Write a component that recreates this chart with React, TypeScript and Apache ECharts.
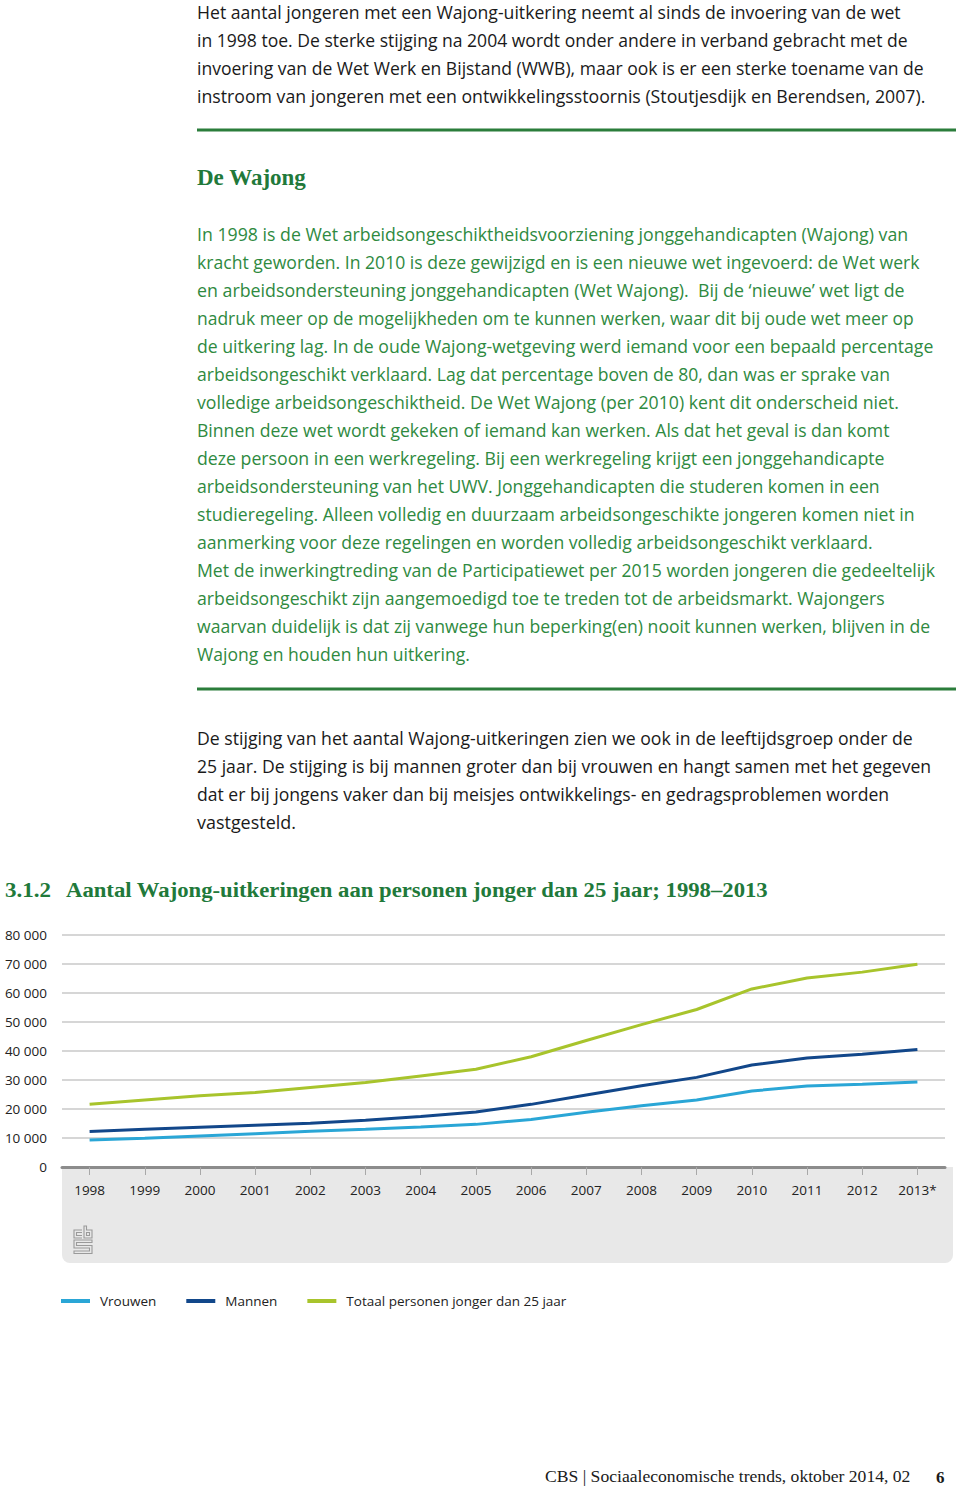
import React, { useEffect, useRef } from "react";
import * as echarts from "echarts";

// ---- chart data ----
const years = ["1998", "1999", "2000", "2001", "2002", "2003", "2004", "2005", "2006", "2007", "2008", "2009", "2010", "2011", "2012", "2013*"];
const vrouwen = [9300, 9900, 10700, 11500, 12300, 13000, 13800, 14700, 16400, 18850, 21100, 23100, 26200, 27900, 28500, 29300];
const mannen = [12200, 13000, 13700, 14400, 15100, 16100, 17400, 19000, 21600, 24800, 28000, 30900, 35200, 37600, 38900, 40500];
const totaal = [21600, 23100, 24600, 25700, 27400, 29100, 31400, 33700, 38000, 43600, 49100, 54300, 61400, 65200, 67200, 69900];
const seriesNames = ["Vrouwen", "Mannen", "Totaal personen jonger dan 25 jaar"];

// ---- page texts ----
const introLines = [
  "Het aantal jongeren met een Wajong-uitkering neemt al sinds de invoering van de wet",
  "in 1998 toe. De sterke stijging na 2004 wordt onder andere in verband gebracht met de",
  "invoering van de Wet Werk en Bijstand (WWB), maar ook is er een sterke toename van de",
  "instroom van jongeren met een ontwikkelingsstoornis (Stoutjesdijk en Berendsen, 2007).",
];
const boxTitle = "De Wajong";
const boxLines = [
  "In 1998 is de Wet arbeidsongeschiktheidsvoorziening jonggehandicapten (Wajong) van",
  "kracht geworden. In 2010 is deze gewijzigd en is een nieuwe wet ingevoerd: de Wet werk",
  "en arbeidsondersteuning jonggehandicapten (Wet Wajong).  Bij de \u2018nieuwe\u2019 wet ligt de",
  "nadruk meer op de mogelijkheden om te kunnen werken, waar dit bij oude wet meer op",
  "de uitkering lag. In de oude Wajong-wetgeving werd iemand voor een bepaald percentage",
  "arbeidsongeschikt verklaard. Lag dat percentage boven de 80, dan was er sprake van",
  "volledige arbeidsongeschiktheid. De Wet Wajong (per 2010) kent dit onderscheid niet.",
  "Binnen deze wet wordt gekeken of iemand kan werken. Als dat het geval is dan komt",
  "deze persoon in een werkregeling. Bij een werkregeling krijgt een jonggehandicapte",
  "arbeidsondersteuning van het UWV. Jonggehandicapten die studeren komen in een",
  "studieregeling. Alleen volledig en duurzaam arbeidsongeschikte jongeren komen niet in",
  "aanmerking voor deze regelingen en worden volledig arbeidsongeschikt verklaard.",
  "Met de inwerkingtreding van de Participatiewet per 2015 worden jongeren die gedeeltelijk",
  "arbeidsongeschikt zijn aangemoedigd toe te treden tot de arbeidsmarkt. Wajongers",
  "waarvan duidelijk is dat zij vanwege hun beperking(en) nooit kunnen werken, blijven in de",
  "Wajong en houden hun uitkering.",
];
const outroLines = [
  "De stijging van het aantal Wajong-uitkeringen zien we ook in de leeftijdsgroep onder de",
  "25 jaar. De stijging is bij mannen groter dan bij vrouwen en hangt samen met het gegeven",
  "dat er bij jongens vaker dan bij meisjes ontwikkelings- en gedragsproblemen worden",
  "vastgesteld.",
];
const chartNumber = "3.1.2";
const chartTitle = "Aantal Wajong-uitkeringen aan personen jonger dan 25 jaar; 1998\u20132013";
const footerText = "CBS | Sociaaleconomische trends, oktober 2014, 02";
const pageNumber = "6";

// ---- layout (right edges of the text lines, px) ----
const introRight = [901, 908, 924, 926];
const boxRight = [908, 920, 905, 914, 934, 891, 899, 890, 885, 880, 915, 873, 936, 885, 930, 470];
const outroRight = [913, 931, 889, 296];

const COLORS = { vrouwen: "#2aa6d6", mannen: "#12478a", totaal: "#a8c42c" };
const GREEN_TEXT = "#2f8a3f";
const GREEN_HEAD = "#21793a";

const LOGO_D =
  "M9 4 H1 V12 H9 M9 6.5 H3.5 V9.5 H9 M11 0 H13.5 V4 H19 V12 H11 Z M13.5 6.5 H16.5 V9.5 H13.5 Z M19 14 H1 V22 H16.5 V25 H1 V27.5 H19 V19.5 H3.5 V16.5 H19 Z";

let measureCtx: CanvasRenderingContext2D | null = null;
function measure(text: string, font: string): number {
  if (!measureCtx) measureCtx = document.createElement("canvas").getContext("2d");
  if (!measureCtx) return text.length * 8;
  measureCtx.font = font;
  return measureCtx.measureText(text).width;
}

function fitText(text: string, x: number, y: number, right: number, font: string, fill: string) {
  const w = measure(text, font);
  const sx = w > 0 ? (right - x) / w : 1;
  return {
    type: "text",
    x,
    y,
    scaleX: sx,
    silent: true,
    style: {
      text,
      font,
      fill,
      align: "left",
      verticalAlign: "middle",
      textAlign: "left",
      textVerticalAlign: "middle",
    },
  };
}

export default function App() {
  const ref = useRef<HTMLDivElement>(null);
  useEffect(() => {
    if (!ref.current) return;
    try {
      echarts.graphic.registerShape("cbslogo", echarts.graphic.extendPath(LOGO_D, {}) as any);
    } catch (e) {}
    const chart = echarts.init(ref.current, null, { renderer: "svg" });
    const prose = '18px "Open Sans", sans-serif';
    const graphics: any[] = [];
    introLines.forEach((t, i) => graphics.push(fitText(t, 197, 12 + i * 28, introRight[i], prose, "#1a1a1a")));
    graphics.push({ type: "line", silent: true, shape: { x1: 197, y1: 130, x2: 956, y2: 130 }, style: { stroke: "#2b7d3b", lineWidth: 3 } });
    graphics.push({
      type: "text",
      x: 197,
      y: 177,
      silent: true,
      style: { text: boxTitle, font: 'bold 23px "Liberation Serif", serif', fill: GREEN_HEAD, align: "left", verticalAlign: "middle", textAlign: "left", textVerticalAlign: "middle" },
    });
    boxLines.forEach((t, i) => graphics.push(fitText(t, 197, 234 + i * 28, boxRight[i], prose, GREEN_TEXT)));
    graphics.push({ type: "line", silent: true, shape: { x1: 197, y1: 689, x2: 956, y2: 689 }, style: { stroke: "#2b7d3b", lineWidth: 3 } });
    outroLines.forEach((t, i) => graphics.push(fitText(t, 197, 738 + i * 28, outroRight[i], prose, "#1a1a1a")));
    const titleFont = 'bold 21px "Liberation Serif", serif';
    graphics.push(fitText(chartNumber, 5, 890, 51, titleFont, GREEN_HEAD));
    graphics.push(fitText(chartTitle, 66, 890, 769, titleFont, GREEN_HEAD));
    // grey band below the axis
    graphics.push({ type: "rect", z: -10, silent: true, shape: { x: 62, y: 1167, width: 891, height: 96, r: [0, 0, 8, 8] }, style: { fill: "#e8e8e8" } });
    graphics.push({ type: "cbslogo", x: 73, y: 1226, silent: true, style: { stroke: "#9a9a9a", fill: "none", lineWidth: 1.1 } });
    graphics.push(fitText(footerText, 545, 1477, 911, '17px "Liberation Serif", serif', "#1a1a1a"));
    graphics.push({
      type: "text",
      x: 936,
      y: 1477,
      silent: true,
      style: { text: pageNumber, font: 'bold 17px "Liberation Serif", serif', fill: "#1a1a1a", align: "left", verticalAlign: "middle", textAlign: "left", textVerticalAlign: "middle" },
    });

    const labelFont = { fontFamily: '"Open Sans", sans-serif', fontSize: 13.5, color: "#222" };
    const mk = (name: string, data: number[], color: string) => ({
      name,
      type: "line",
      data,
      symbol: "none",
      smooth: false,
      z: 3,
      lineStyle: { color, width: 3 },
      itemStyle: { color },
    });
    chart.setOption({
      animation: false,
      backgroundColor: "#ffffff",
      grid: { left: 62, top: 935, width: 883, height: 232 },
      xAxis: {
        type: "category",
        data: years,
        boundaryGap: true,
        axisLine: { lineStyle: { color: "#8c8c8c", width: 3 } },
        axisTick: { show: true, alignWithLabel: true, length: 8, lineStyle: { color: "#a8a8a8", width: 1 } },
        axisLabel: { ...labelFont, margin: 16, interval: 0 },
        splitLine: { show: false },
      },
      yAxis: {
        type: "value",
        min: 0,
        max: 80000,
        interval: 10000,
        axisLine: { show: false },
        axisTick: { show: false },
        axisLabel: {
          ...labelFont,
          margin: 15,
          formatter: (v: number) => (v === 0 ? "0" : String(v).replace(/\B(?=(\d{3})+(?!\d))/g, " ")),
        },
        splitLine: { lineStyle: { color: "#d6d6d6", width: 2 } },
      },
      legend: {
        left: 61,
        top: 1294,
        padding: 0,
        itemWidth: 29,
        itemHeight: 4,
        itemGap: 30,
        icon: "rect",
        textStyle: { ...labelFont, padding: [0, 0, 0, 5] },
        data: seriesNames,
      },
      series: [
        mk(seriesNames[0], vrouwen, COLORS.vrouwen),
        mk(seriesNames[1], mannen, COLORS.mannen),
        mk(seriesNames[2], totaal, COLORS.totaal),
      ],
      graphic: { elements: graphics },
    });
    return () => chart.dispose();
  }, []);
  return (
    <div style={{ position: "absolute", left: 0, top: 0, width: 960, height: 1488, background: "#fff" }}>
      <div ref={ref} style={{ width: 960, height: 1488 }} />
    </div>
  );
}
